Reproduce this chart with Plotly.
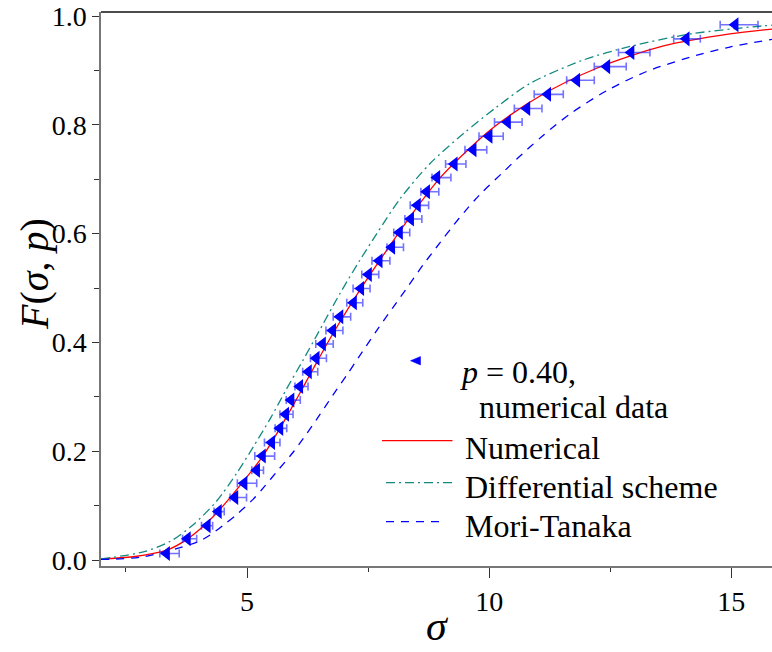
import plotly.graph_objects as go

# ---- numerical data points (p = 0.40) with horizontal error bars ----
data_sigma = [3.34, 3.77, 4.18, 4.41, 4.75, 4.94, 5.20, 5.32, 5.51, 5.68,
              5.80, 5.91, 6.09, 6.27, 6.43, 6.56, 6.77, 6.92, 7.20, 7.35,
              7.51, 7.73, 7.99, 8.15, 8.38, 8.52, 8.71, 8.92, 9.28, 9.67,
              10.00, 10.38, 10.78, 11.21, 11.81, 12.43, 12.93, 14.07, 15.08]
data_F = [0.012, 0.039, 0.063, 0.089, 0.115, 0.141, 0.165, 0.191, 0.216, 0.242,
          0.268, 0.294, 0.319, 0.346, 0.371, 0.397, 0.422, 0.447, 0.473, 0.499,
          0.525, 0.550, 0.575, 0.602, 0.627, 0.652, 0.677, 0.703, 0.728, 0.754,
          0.779, 0.805, 0.830, 0.856, 0.882, 0.907, 0.933, 0.958, 0.984]
err_minus = [0.14, 0.10, 0.12, 0.09, 0.10, 0.14, 0.10, 0.16, 0.15, 0.10,
             0.12, 0.10, 0.10, 0.12, 0.12, 0.14, 0.14, 0.14, 0.14, 0.16,
             0.14, 0.15, 0.10, 0.12, 0.12, 0.15, 0.12, 0.10, 0.18, 0.17,
             0.21, 0.27, 0.26, 0.28, 0.21, 0.26, 0.26, 0.26, 0.31]
err_plus = [0.26, 0.19, 0.11, 0.12, 0.24, 0.26, 0.14, 0.25, 0.17, 0.14,
            0.15, 0.19, 0.17, 0.19, 0.21, 0.22, 0.21, 0.22, 0.19, 0.19,
            0.21, 0.22, 0.24, 0.21, 0.23, 0.23, 0.25, 0.29, 0.24, 0.28,
            0.29, 0.30, 0.31, 0.32, 0.36, 0.40, 0.39, 0.29, 0.47]

# ---- model curves ----
num_sigma = [1.985, 2.65, 3.34, 3.76, 4.17, 4.51, 4.92, 5.34, 5.68, 6.03,
             6.37, 6.65, 6.92, 7.27, 7.61, 7.89, 8.16, 8.54, 8.99, 9.61,
             10.16, 11.05, 12.22, 13.6, 14.97, 15.84]
num_F = [0.002, 0.006, 0.018, 0.038, 0.068, 0.100, 0.144, 0.193, 0.242, 0.297,
         0.352, 0.397, 0.438, 0.488, 0.534, 0.570, 0.605, 0.652, 0.703, 0.758,
         0.800, 0.853, 0.904, 0.945, 0.967, 0.976]

diff_sigma = [1.985, 2.86, 3.41, 3.89, 4.37, 4.79, 5.13, 5.48, 5.82, 6.16,
              6.44, 6.92, 7.33, 7.68, 8.16, 8.78, 9.47, 10.16, 10.84, 11.94,
              12.91, 14.15, 15.66, 15.84]
diff_F = [0.002, 0.015, 0.034, 0.065, 0.108, 0.160, 0.208, 0.260, 0.315, 0.368,
          0.413, 0.490, 0.551, 0.600, 0.664, 0.729, 0.784, 0.833, 0.876, 0.919,
          0.944, 0.967, 0.982, 0.983]

mt_sigma = [1.985, 2.79, 3.5, 4.0, 4.24, 4.51, 4.79, 5.13, 5.34, 5.61,
            5.96, 6.23, 6.51, 6.78, 7.06, 7.3, 7.68, 8.02, 8.30, 8.64,
            8.99, 9.26, 9.5, 9.81, 10.3, 10.57, 11.12, 11.67, 12.43, 13.25,
            14.29, 14.97, 15.84]
mt_F = [0.001, 0.005, 0.020, 0.034, 0.046, 0.064, 0.084, 0.112, 0.133, 0.162,
        0.199, 0.232, 0.268, 0.304, 0.340, 0.372, 0.422, 0.465, 0.500, 0.543,
        0.584, 0.615, 0.641, 0.672, 0.714, 0.737, 0.781, 0.820, 0.863, 0.898,
        0.928, 0.943, 0.957]

x_ticks = [5, 10, 15]
y_ticks = [0.0, 0.2, 0.4, 0.6, 0.8, 1.0]
y_ticktext = ["0.0", "0.2", "0.4", "0.6", "0.8", "1.0"]

legend_labels = ["<i>p</i> = 0.40,", "numerical data", "Numerical",
                 "Differential scheme", "Mori-Tanaka"]

RED = "#ff0000"
TEAL = "#138a80"
BLUE = "#0000ff"
SERIF = "Times New Roman, Liberation Serif, Tinos, DejaVu Serif, serif"

W, H = 772, 652
ML, MR, MT, MB = 101, 0, 12, 86
PW, PH = W - ML - MR, H - MT - MB


def px(x):
    return (x - ML) / PW


def py(y):
    return (H - MB - y) / PH


fig = go.Figure()

fig.add_trace(go.Scatter(
    x=num_sigma, y=num_F, mode="lines", name="Numerical",
    line=dict(color=RED, width=1.3, shape="spline", smoothing=0.8),
))
fig.add_trace(go.Scatter(
    x=diff_sigma, y=diff_F, mode="lines", name="Differential scheme",
    line=dict(color=TEAL, width=1.3, dash="9px,4px,2px,4px",
              shape="spline", smoothing=0.8),
))
fig.add_trace(go.Scatter(
    x=mt_sigma, y=mt_F, mode="lines", name="Mori-Tanaka",
    line=dict(color=BLUE, width=1.3, dash="8px,7px",
              shape="spline", smoothing=0.8),
))
fig.add_trace(go.Scatter(
    x=data_sigma, y=data_F, mode="markers", name="p = 0.40, numerical data",
    marker=dict(symbol="triangle-left", size=13, color=BLUE),
    error_x=dict(type="data", symmetric=False, array=err_plus,
                 arrayminus=err_minus, color="rgba(40,40,255,0.65)",
                 thickness=1.6, width=4),
))

# legend drawn by hand
shapes = [
    # top frame line
    dict(type="line", xref="paper", yref="paper", x0=0, x1=1, y0=1, y1=1,
         line=dict(color="#111111", width=1.5)),
    # marker sample
    dict(type="path", xref="paper", yref="paper",
         path=f"M{px(410.5)},{py(360.7)} L{px(420.5)},{py(356.5)} "
              f"L{px(420.5)},{py(365)} Z",
         fillcolor=BLUE, line=dict(color=BLUE, width=0.5)),
    dict(type="line", xref="paper", yref="paper", x0=px(382), x1=px(452.5),
         y0=py(440.7), y1=py(440.7), line=dict(color=RED, width=1.3)),
    dict(type="line", xref="paper", yref="paper", x0=px(386), x1=px(452.5),
         y0=py(482.7), y1=py(482.7),
         line=dict(color=TEAL, width=1.3, dash="9px,4px,2px,4px")),
    dict(type="line", xref="paper", yref="paper", x0=px(386), x1=px(445),
         y0=py(521.7), y1=py(521.7),
         line=dict(color=BLUE, width=1.3, dash="8px,7px")),
]

legend_pos = [(458, 372.5), (477, 406.5), (462.5, 447.5),
              (462.5, 486.5), (462.5, 526)]
annotations = []
for label, (lx, ly) in zip(legend_labels, legend_pos):
    annotations.append(dict(
        text=label, xref="paper", yref="paper", x=px(lx), y=py(ly),
        xanchor="left", yanchor="middle", showarrow=False,
        font=dict(family=SERIF, size=32, color="black"),
    ))

# axis titles
annotations.append(dict(
    text="<i>σ</i>", xref="paper", yref="paper", x=px(437), y=py(626),
    xanchor="center", yanchor="middle", showarrow=False,
    font=dict(family=SERIF, size=42, color="black"),
))
annotations.append(dict(
    text="<i>F</i>(<i>σ</i>, <i>p</i>)", xref="paper", yref="paper",
    x=px(35), y=py(274), xanchor="center", yanchor="middle",
    textangle=-90, showarrow=False,
    font=dict(family=SERIF, size=40, color="black"),
))

fig.update_layout(
    width=W, height=H,
    margin=dict(l=ML, r=MR, t=MT, b=MB, pad=0),
    paper_bgcolor="white", plot_bgcolor="white",
    showlegend=False,
    shapes=shapes, annotations=annotations,
    font=dict(family=SERIF, color="black"),
)

fig.update_xaxes(
    range=[1.985, 15.84], showgrid=False, zeroline=False,
    showline=True, linecolor="#777777", linewidth=1.5,
    tickmode="array", tickvals=x_ticks, ticktext=[str(v) for v in x_ticks],
    ticks="outside", ticklen=10, tickwidth=1, tickcolor="#333333",
    tickfont=dict(family=SERIF, size=28, color="black"),
    ticklabelstandoff=0,
    minor=dict(tickmode="array", tickvals=[2.5, 7.5, 12.5], ticks="outside",
               ticklen=4, tickwidth=1, tickcolor="#333333"),
)
fig.update_yaxes(
    range=[-0.011, 1.0074], showgrid=False, zeroline=False,
    showline=True, linecolor="#777777", linewidth=1.5,
    tickmode="array", tickvals=y_ticks, ticktext=y_ticktext,
    ticks="outside", ticklen=7, tickwidth=1, tickcolor="#333333",
    tickfont=dict(family=SERIF, size=28, color="black"),
    ticklabelstandoff=0,
    minor=dict(tickmode="array", tickvals=[0.1, 0.3, 0.5, 0.7, 0.9],
               ticks="outside", ticklen=5, tickwidth=1, tickcolor="#333333"),
)

fig.write_html("out.html")
